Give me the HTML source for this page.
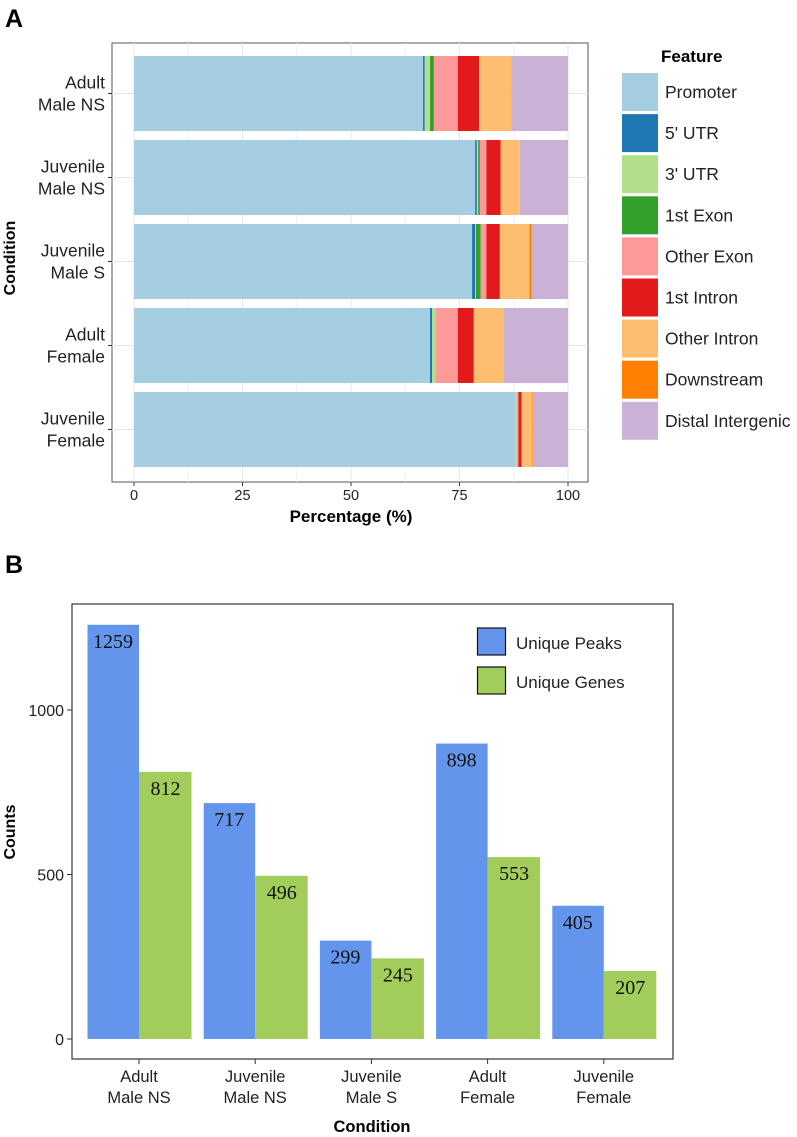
<!DOCTYPE html>
<html><head><meta charset="utf-8">
<style>
body{margin:0;background:#fff;}
svg{display:block;font-family:"Liberation Sans",Arial,sans-serif;}
</style></head>
<body>
<svg id="chart" width="797" height="1137" viewBox="0 0 797 1137"></svg>
<script>
// ---- Panel A data ----
const conditionsA = ["Adult\nMale NS","Juvenile\nMale NS","Juvenile\nMale S","Adult\nFemale","Juvenile\nFemale"];
const features = ["Promoter","5' UTR","3' UTR","1st Exon","Other Exon","1st Intron","Other Intron","Downstream","Distal Intergenic"];
const featureColors = ["#a6cee3","#1f78b4","#b2df8a","#33a02c","#fb9a99","#e31a1c","#fdbf6f","#ff7f00","#cab2d6"];
const pctAdultMaleNS = [66.6,0.4,1.2,0.9,5.5,4.9,7.4,0,13.1];
const pctJuvMaleNS = [78.6,0.4,0.3,0.4,1.5,3.3,4.4,0,11.1];
const pctJuvMaleS = [77.9,0.7,0.2,1.1,1.3,3.1,6.8,0.5,8.4];
const pctAdultFemale = [68.2,0.5,0.8,0,5.1,3.7,6.8,0,14.9];
const pctJuvFemale = [87.8,0,0.4,0,0.4,0.7,2.5,0.2,8.0];
const pctSeries = [pctAdultMaleNS,pctJuvMaleNS,pctJuvMaleS,pctAdultFemale,pctJuvFemale];
const xTicksA = [0,25,50,75,100];

// ---- Panel B data ----
const conditionsB = ["Adult\nMale NS","Juvenile\nMale NS","Juvenile\nMale S","Adult\nFemale","Juvenile\nFemale"];
const uniquePeaks = [1259,717,299,898,405];
const uniqueGenes = [812,496,245,553,207];
const yTicksB = [0,500,1000];

const svg = document.getElementById('chart');
const NS = 'http://www.w3.org/2000/svg';
function mk(tag, attrs, parent){
  const e = document.createElementNS(NS, tag);
  for (const k in attrs) e.setAttribute(k, attrs[k]);
  (parent||svg).appendChild(e);
  return e;
}
function txt(s, attrs, parent){ const t = mk('text', attrs, parent); t.textContent = s; return t; }

// ===== Panel A =====
const A = {l:112,r:588,t:43,b:482};
const xA = v => 134 + v*(568-134)/100;
const rowTop = i => 56 + i*84, rowH = 75;
let lbl = txt('A',{x:5,y:27,'font-size':25,'font-weight':'bold'});
 
let boxA = mk('rect',{x:A.l,y:A.t,width:A.r-A.l,height:A.b-A.t,fill:'#fff',stroke:'#555','stroke-width':1});
 
[12.5,37.5,62.5,87.5].forEach(v=>{mk('line',{x1:xA(v),x2:xA(v),y1:A.t,y2:A.b,stroke:'#f0f0f0','stroke-width':1});});
xTicksA.forEach(v=>{
  mk('line',{x1:xA(v),x2:xA(v),y1:A.t,y2:A.b,stroke:'#e6e6e6','stroke-width':1});
  mk('line',{x1:xA(v),x2:xA(v),y1:A.b,y2:A.b+4,stroke:'#333'});
  const t = txt(String(v),{x:xA(v),y:A.b+18,'font-size':14.5,'text-anchor':'middle',fill:'#222'});
   
});
pctSeries.forEach((row,i)=>{
  const y = rowTop(i);
  mk('line',{x1:A.l,x2:A.r,y1:y+rowH/2,y2:y+rowH/2,stroke:'#e6e6e6'});
});
pctSeries.forEach((row,i)=>{
  const y = rowTop(i);
  let cum = 0;
  row.forEach((v,j)=>{
    if (v<=0) return;
    const r = mk('rect',{x:xA(cum),y:y,width:xA(cum+v)-xA(cum),height:rowH,fill:featureColors[j]});
    
    
    cum += v;
  });
  mk('line',{x1:A.l-4,x2:A.l,y1:y+rowH/2,y2:y+rowH/2,stroke:'#333'});
  const lines = conditionsA[i].split('\n');
  lines.forEach((s,k)=>{
    const t = txt(s,{x:105,y:y+rowH/2-5+k*22,'font-size':17.5,'text-anchor':'end',fill:'#222'});
     
  });
});
let yt = txt('Condition',{x:0,y:0,'font-size':16,'font-weight':'bold','text-anchor':'middle',transform:'translate(15,258) rotate(-90)'});
 
let xt = txt('Percentage (%)',{x:351,y:522,'font-size':17,'font-weight':'bold','text-anchor':'middle'});
 
// legend A
let lt = txt('Feature',{x:661,y:62,'font-size':17,'font-weight':'bold'});
 
features.forEach((f,j)=>{
  const y = 73 + j*41.1;
  const r = mk('rect',{x:622,y:y,width:36,height:38,fill:featureColors[j]});
   
  const t = txt(f,{x:665,y:y+25,'font-size':17.5,fill:'#222'});
   
});

// ===== Panel B =====
const B = {l:72,r:673,t:604,b:1059};
const yB = v => 1039 - v*0.329;
let lb = txt('B',{x:5,y:573,'font-size':25,'font-weight':'bold'});
 
let boxB = mk('rect',{x:B.l,y:B.t,width:B.r-B.l,height:B.b-B.t,fill:'#fff',stroke:'#333','stroke-width':1.2});
 
yTicksB.forEach(v=>{
  mk('line',{x1:B.l-5,x2:B.l,y1:yB(v),y2:yB(v),stroke:'#333'});
  const t = txt(String(v),{x:B.l-8,y:yB(v)+6,'font-size':16,'text-anchor':'end',fill:'#222'});
   
});
const gx = i => 87.5 + i*116.2;
uniquePeaks.forEach((v,i)=>{
  const x0 = gx(i);
  const b1 = mk('rect',{x:x0,y:yB(v),width:51.5,height:yB(0)-yB(v),fill:'#6495ed'});
   
  const g = uniqueGenes[i];
  const b2 = mk('rect',{x:x0+51.5,y:yB(g),width:52.5,height:yB(0)-yB(g),fill:'#a2cd5a'});
   
  const t1 = txt(String(v),{x:x0+25.5,y:yB(v)+23,'font-size':20,'text-anchor':'middle','font-family':'Liberation Serif, serif',fill:'#111'});
   
  const t2 = txt(String(g),{x:x0+78,y:yB(g)+23,'font-size':20,'text-anchor':'middle','font-family':'Liberation Serif, serif',fill:'#111'});
   
  mk('line',{x1:x0+51.5,x2:x0+51.5,y1:B.b,y2:B.b+5,stroke:'#333'});
  conditionsB[i].split('\n').forEach((s,k)=>{
    const t = txt(s,{x:x0+51.5,y:1082+k*21,'font-size':16.5,'text-anchor':'middle',fill:'#222'});
     
  });
});
let ytb = txt('Counts',{x:0,y:0,'font-size':16,'font-weight':'bold','text-anchor':'middle',transform:'translate(15,832) rotate(-90)'});
 
let xtb = txt('Condition',{x:372,y:1132,'font-size':16.5,'font-weight':'bold','text-anchor':'middle'});
 
// legend B
const legB = [["Unique Peaks","#6495ed"],["Unique Genes","#a2cd5a"]];
legB.forEach((d,k)=>{
  const y = 628 + k*39;
  const r = mk('rect',{x:477.5,y:y,width:28,height:27,fill:d[1],stroke:'#111','stroke-width':1.2});
   
  const t = txt(d[0],{x:516,y:y+21,'font-size':17,fill:'#222'});
   
});
</script>
</body></html>
